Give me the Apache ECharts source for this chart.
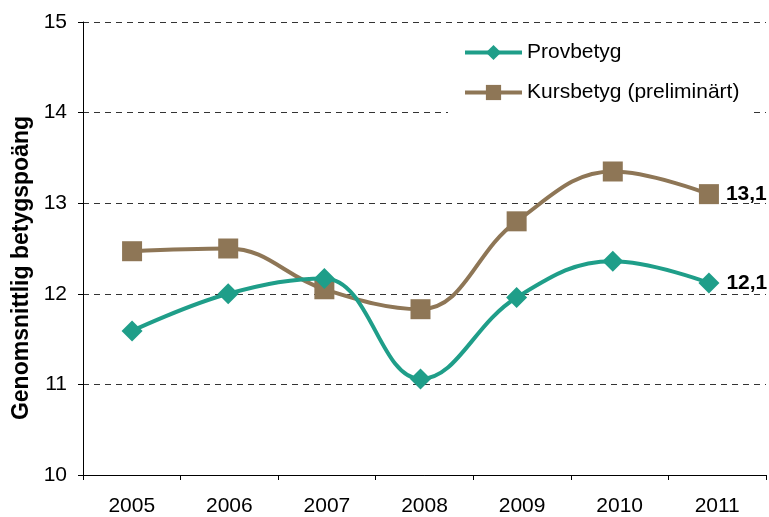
<!DOCTYPE html>
<html><head><meta charset="utf-8">
<script src="https://cdn.jsdelivr.net/npm/echarts@6/dist/echarts.min.js"></script>
<style>html,body{margin:0;padding:0;background:#fff}#c{width:769px;height:517px}</style>
</head><body><div id="c"></div>
<script>
const years = ['2005','2006','2007','2008','2009','2010','2011'];
const provbetyg = [11.59, 12.0, 12.17, 11.06, 11.96, 12.36, 12.12];
const kursbetyg = [12.47, 12.5, 12.05, 11.83, 12.8, 13.35, 13.1];
const endLabels = ['12,1', '13,1'];
const yTicks = [10, 11, 12, 13, 14, 15];
const yTitle = 'Genomsnittlig betygspoäng';

const F = 'Arial, "Liberation Sans", sans-serif';
function withEndLabel(arr, text) {
  return arr.map((v, i) => i === arr.length - 1 ? {
    value: v,
    label: {show: true, position: 'right', distance: 7, formatter: text,
      fontFamily: F, fontSize: 21, fontWeight: 'bold', color: '#000'}
  } : v);
}
const yMin = yTicks[0], yMax = yTicks[yTicks.length - 1];
const chart = echarts.init(document.getElementById('c'));
chart.setOption({
  animation: false,
  grid: [
    {left: 83, right: 3, top: 22, bottom: 42, containLabel: false},
    {left: 84, right: 12, top: 22, bottom: 42, containLabel: false}
  ],
  legend: {
    left: 448, top: 30, orient: 'vertical', backgroundColor: '#fff',
    padding: [12, 12, 14, 15], itemGap: 19, itemWidth: 57, itemHeight: 19,
    lineStyle: {width: 4},
    textStyle: {fontFamily: F, fontSize: 21, color: '#000'},
    data: ['Provbetyg', 'Kursbetyg (preliminärt)']
  },
  graphic: [{
    type: 'text', x: 22, y: 268, rotation: Math.PI / 2,
    style: {text: yTitle, font: 'bold 23px ' + F, fill: '#000',
      align: 'center', verticalAlign: 'middle'}
  }],
  xAxis: [
    {
      type: 'category', data: years, boundaryGap: true, gridIndex: 0,
      axisLine: {lineStyle: {color: '#000', width: 1}},
      axisTick: {show: true, length: 5, lineStyle: {color: '#000'}},
      axisLabel: {fontFamily: F, fontSize: 21, color: '#000', margin: 21}
    },
    {type: 'category', data: years, boundaryGap: true, gridIndex: 1, show: false}
  ],
  yAxis: [
    {
      type: 'value', min: yMin, max: yMax, interval: 1, gridIndex: 0,
      axisLine: {show: true, lineStyle: {color: '#000', width: 1}},
      axisTick: {show: true, length: 5, lineStyle: {color: '#000'}},
      axisLabel: {fontFamily: F, fontSize: 21, color: '#000', margin: 16},
      splitLine: {show: true, lineStyle: {color: '#333', type: [6, 5], width: 1}}
    },
    {type: 'value', min: yMin, max: yMax, interval: 1, gridIndex: 1, show: false,
      splitLine: {show: false}}
  ],
  series: [
    {
      name: 'Provbetyg', type: 'line', smooth: 0.4, xAxisIndex: 1, yAxisIndex: 1,
      data: withEndLabel(provbetyg, endLabels[0]),
      symbol: 'diamond', symbolSize: 21,
      lineStyle: {color: '#1f9e89', width: 4},
      itemStyle: {color: '#1f9e89'}, z: 3
    },
    {
      name: 'Kursbetyg (preliminärt)', type: 'line', smooth: 0.4, xAxisIndex: 1, yAxisIndex: 1,
      data: withEndLabel(kursbetyg, endLabels[1]),
      symbol: 'rect', symbolSize: 20,
      lineStyle: {color: '#8e7656', width: 4},
      itemStyle: {color: '#8e7656'}, z: 2
    }
  ]
});
</script></body></html>
